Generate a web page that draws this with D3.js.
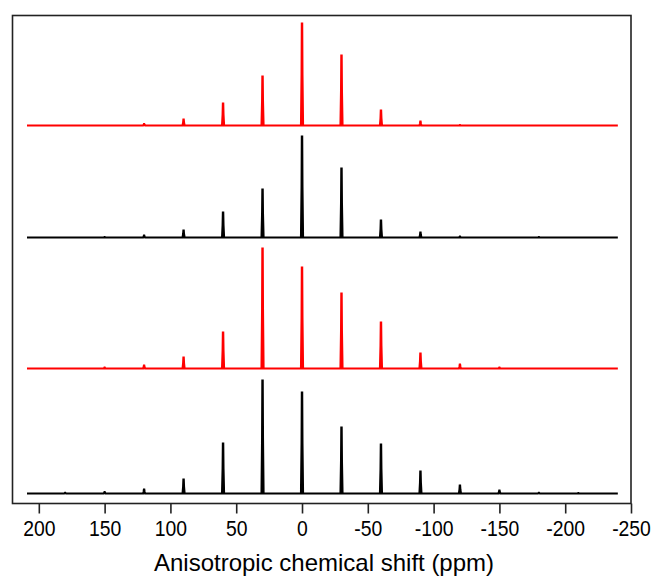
<!DOCTYPE html>
<html>
<head>
<meta charset="utf-8">
<script src="https://cdn.jsdelivr.net/npm/d3@7"></script>
<style>
  body { margin: 0; background: #fff; }
  text { font-family: "Liberation Sans", Arial, sans-serif; fill: #000; }
</style>
</head>
<body>
<svg id="chart" width="654" height="577"></svg>
<script>
// sideband positions (ppm)
var sidebands = [180, 150, 120, 90, 60, 30, 0, -30, -60, -90, -120, -150, -180, -210];

// intensities, top spectrum first
var specA = [0, 0, 1.5, 6, 22, 49, 102, 70, 15, 4, 0.5, 0, 0, 0];
var specB = [0, 0.5, 2, 7, 25, 48, 101, 69, 17, 5, 1, 0, 0.5, 0];
var specC = [0, 1, 3, 11, 36, 120, 101, 75, 46, 15, 4, 1, 0, 0];
var specD = [0.7, 1.3, 4, 14, 50, 113, 101, 66, 49, 22, 8, 3, 0.7, 0.5];

var spectra = [specA, specB, specC, specD];
var colors = ["#ff0000", "#000000", "#ff0000", "#000000"];
var offsets = [378, 266, 135, 10];

var xTicks = [200, 150, 100, 50, 0, -50, -100, -150, -200, -250];
var ppmStart = 209, ppmEnd = -240;

var svg = d3.select("#chart");
var plotLeft = 12.5, plotRight = 631, plotTop = 15.5, plotBottom = 503.5;

var x = d3.scaleLinear().domain([220, -250]).range([plotLeft, plotRight]);
var y = d3.scaleLinear().domain([0, 488]).range([plotBottom, plotTop]);

// each sideband drawn as a narrow peak on the baseline
function spectrumPoints(vals, off) {
  var pts = [[ppmStart, off]];
  sidebands.forEach(function(p, i) {
    var h = vals[i];
    if (p > ppmStart || p < ppmEnd) return;
    if (h <= 0) return;
    pts.push([p + 0.75, off]);
    pts.push([p + 0.3, off + h * 0.5]);
    pts.push([p + 0.1, off + h]);
    pts.push([p - 0.1, off + h]);
    pts.push([p - 0.3, off + h * 0.5]);
    pts.push([p - 0.75, off]);
  });
  pts.push([ppmEnd, off]);
  return pts;
}

var line = d3.line()
  .x(function(d) { return x(d[0]); })
  .y(function(d) { return y(d[1]); });

spectra.forEach(function(vals, k) {
  svg.append("path")
    .attr("d", line(spectrumPoints(vals, offsets[k])))
    .attr("fill", "none")
    .attr("stroke", colors[k])
    .attr("stroke-width", 2.2)
    .attr("stroke-linejoin", "miter");
});

// frame
svg.append("rect")
  .attr("x", plotLeft).attr("y", plotTop)
  .attr("width", plotRight - plotLeft).attr("height", plotBottom - plotTop)
  .attr("fill", "none")
  .attr("stroke", "#222")
  .attr("stroke-width", 1.6);

var xAxis = d3.axisBottom(x)
  .tickValues(xTicks)
  .tickSize(10)
  .tickPadding(7)
  .tickFormat(d3.format("d"));

var gx = svg.append("g")
  .attr("transform", "translate(0," + plotBottom + ")")
  .call(xAxis);
gx.select(".domain").remove();
gx.selectAll(".tick line").attr("stroke", "#222").attr("stroke-width", 1.6);
gx.selectAll(".tick text")
  .style("font-family", "'Liberation Sans', Arial, sans-serif")
  .style("font-size", "22px")
  .attr("transform", "scale(0.88,1)")
  .text(function(d) { return d < 0 ? "-" + Math.abs(d) : d; });

svg.append("text")
  .attr("x", 324)
  .attr("y", 571)
  .attr("text-anchor", "middle")
  .style("font-size", "24px")
  .text("Anisotropic chemical shift (ppm)");
</script>
</body>
</html>
